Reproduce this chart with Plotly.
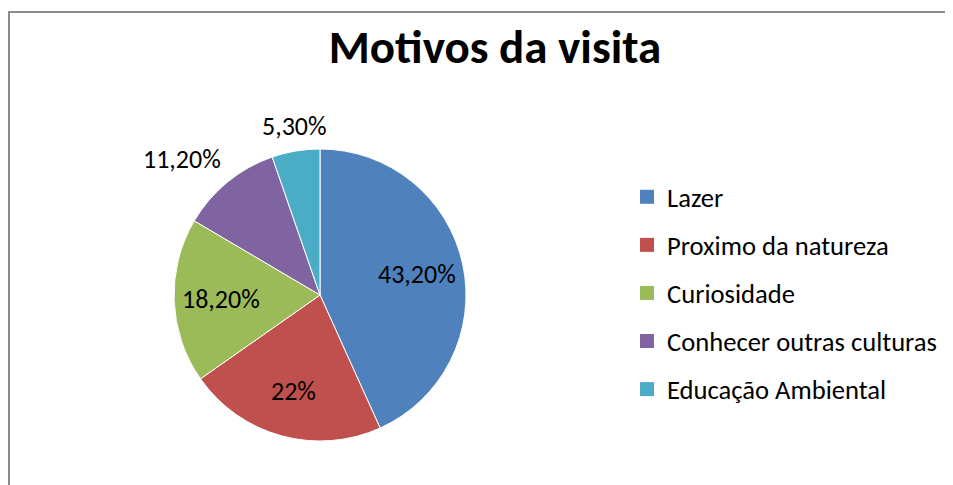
import math
import plotly.graph_objects as go

categories = ["Lazer", "Proximo da natureza", "Curiosidade", "Conhecer outras culturas", "Educação Ambiental"]
values = [43.2, 22.0, 18.2, 11.2, 5.3]
value_labels = ["43,20%", "22%", "18,20%", "11,20%", "5,30%"]
label_inside = [True, True, True, False, False]
colors = ["#4F81BD", "#C0504D", "#9BBB59", "#8064A2", "#4BACC6"]
title_text = "Motivos da visita"

# page has an 8px body margin: figure occupies page pixels 8..953 / 8..485
OFF = 8
W, H = 953 - OFF, 485 - OFF
FONT = "Carlito, Calibri, Lato, sans-serif"
LABEL_SIZE = 26


def px(xp):
    return (xp - OFF) / W


def py(yp):
    return 1 - (yp - OFF) / H


# pie placement (page pixels)
PIE_L, PIE_R, PIE_T, PIE_B = 174, 466, 149, 441
cx, cy = (PIE_L + PIE_R) / 2, (PIE_T + PIE_B) / 2
rad = (PIE_R - PIE_L) / 2

fig = go.Figure()
fig.add_trace(go.Pie(
    labels=categories,
    values=values,
    text=value_labels,
    textinfo="none",
    marker=dict(colors=colors, line=dict(color="white", width=1)),
    sort=False,
    direction="clockwise",
    rotation=0,
    showlegend=False,
    hoverinfo="label+text",
    domain=dict(x=[px(PIE_L), px(PIE_R)], y=[py(PIE_B), py(PIE_T)]),
))

# data labels placed on each slice's mid-angle (inside: within slice, outside: past the rim)
total = sum(values)
cum = 0.0
annotations = []
for v, t, ins in zip(values, value_labels, label_inside):
    mid = (cum + v / 2) / total * 2 * math.pi
    cum += v
    dx, dy = math.sin(mid), -math.cos(mid)
    if ins:
        ax, ay = cx + dx * rad * 0.68, cy + dy * rad * 0.68
        xa, ya = "center", "middle"
    else:
        ax, ay = cx + dx * (rad + 7), cy + dy * (rad + 7)
        xa = "right" if dx < -0.3 else ("left" if dx > 0.3 else "center")
        ya = "bottom" if dy < -0.3 else ("top" if dy > 0.3 else "middle")
    annotations.append(dict(x=px(ax), y=py(ay), xref="paper", yref="paper",
                            text=t, showarrow=False, xanchor=xa, yanchor=ya,
                            font=dict(family=FONT, size=LABEL_SIZE, color="black")))

for cat, col in zip(categories, colors):
    fig.add_trace(go.Scatter(
        x=[None], y=[None], mode="markers", name=cat, legendgroup=cat,
        marker=dict(symbol="square", size=14, color=col),
        hoverinfo="skip",
    ))

fig.update_layout(
    width=W, height=H,
    margin=dict(l=0, r=0, t=0, b=0),
    paper_bgcolor="white", plot_bgcolor="white",
    title=dict(text="<b>" + title_text + "</b>", x=px(495), xanchor="center",
               y=py(47), yanchor="middle",
               font=dict(family=FONT, size=47, color="black")),
    xaxis=dict(visible=False), yaxis=dict(visible=False),
    legend=dict(x=px(627), xanchor="left", y=py(173), yanchor="top",
                font=dict(family=FONT, size=26.6, color="black"),
                tracegroupgap=10.5, bgcolor="rgba(0,0,0,0)"),
    annotations=annotations,
    shapes=[dict(type="rect", xref="paper", yref="paper",
                 x0=px(9), x1=1.05, y0=-0.05, y1=py(12),
                 line=dict(color="#8C8C8C", width=2), fillcolor="rgba(0,0,0,0)",
                 layer="below")],
)

fig.write_html("out.html")
